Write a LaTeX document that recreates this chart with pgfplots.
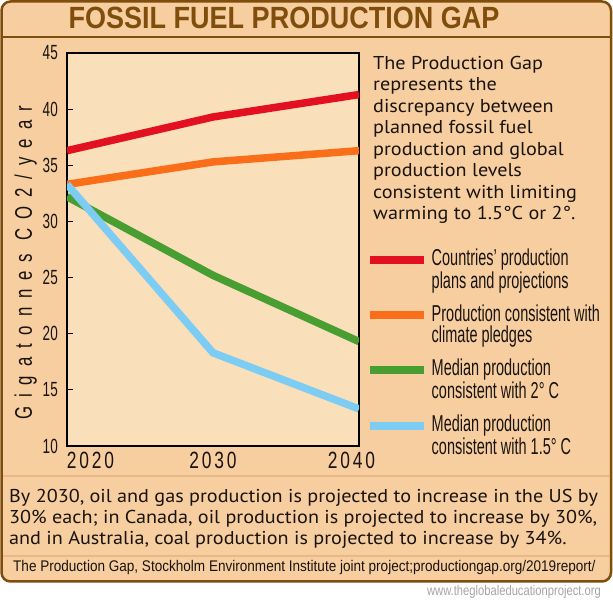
\documentclass[border=0pt]{standalone}
\usepackage{fontspec}
\usepackage{pgfplots}
\pgfplotsset{compat=1.18}
\setmainfont[FakeStretch=1.085]{PT Sans}
\newfontfamily\titlefont[FakeStretch=0.88]{Liberation Sans Bold}
\newfontfamily\condfont[FakeStretch=0.66]{Liberation Sans}
\newfontfamily\xtickfont[FakeStretch=0.74,LetterSpace=12]{Liberation Sans}
\newfontfamily\ylabfont[FakeStretch=0.7,LetterSpace=37]{Liberation Sans}
\newfontfamily\legfont[FakeStretch=0.63]{Liberation Sans}
\newfontfamily\srcfont[FakeStretch=0.88]{Liberation Sans}
\newfontfamily\wwwfont[FakeStretch=0.8]{Liberation Sans}
\definecolor{outerbg}{RGB}{247,206,160}
\definecolor{plotbg}{RGB}{249,223,186}
\definecolor{brownA}{RGB}{128,78,12}
\definecolor{sepcol}{RGB}{233,184,134}
\definecolor{redA}{RGB}{226,16,32}
\definecolor{orangeA}{RGB}{250,110,25}
\definecolor{greenA}{RGB}{72,158,48}
\definecolor{blueA}{RGB}{124,204,244}
\definecolor{txt}{RGB}{25,20,15}
\begin{document}
\begin{tikzpicture}[x=1pt,y=1pt]
\useasboundingbox (0,0) rectangle (613,601);
\fill[white] (0,0) rectangle (613,601);
\draw[brownA, line width=2.5pt, fill=outerbg, rounded corners=9pt] (1.5,19.5) rectangle (611,599.5);
\draw[brownA, line width=2.5pt] (1.5,564) -- (611,564);
\draw[sepcol, line width=1.2pt] (3,125) -- (609.5,125);
\draw[sepcol, line width=1.2pt] (3,45) -- (609.5,45);
\node[anchor=base, inner sep=0pt, font=\titlefont\fontsize{30.7}{32}\selectfont, text=brownA] at (284,572) {FOSSIL FUEL PRODUCTION GAP};
\begin{axis}[
  at={(67pt,155pt)}, anchor=south west,
  scale only axis, width=292pt, height=393pt,
  xmin=2020, xmax=2040, ymin=10, ymax=45,
  axis background/.style={fill=plotbg},
  axis line style={line width=1.4pt, black},
  xtick={2020,2030,2040},
  xticklabels={\makebox[0pt][l]{2020}, 2030, \makebox[0pt][r]{2040\hspace*{-16pt}}},
  x tick label style={font=\xtickfont\fontsize{23.5}{24}\selectfont, anchor=north, inner sep=0pt, yshift=-6pt, text=txt},
  x tick style={draw=none},
  ytick={10,15,20,25,30,35,40,45},
  y tick label style={font=\condfont\fontsize{20.5}{21}\selectfont, anchor=east, inner sep=0pt, xshift=-9pt, text=txt},
  ytick pos=left, tick align=inside, major tick length=6pt,
  y tick style={line width=1.2pt, black},
  /pgf/number format/assume math mode=true,
  ylabel={Gigatonnes CO2/year},
  ylabel style={font=\ylabfont\fontsize{24}{24}\selectfont, at={(axis description cs:-0.1199,0.466)}, anchor=base, inner sep=0pt, text=txt},
  legend style={at={(axis description cs:1.024,0.501)}, anchor=north west, draw=none, fill=none, inner sep=0pt, row sep=15.3pt, column sep=4pt, font=\legfont\fontsize{23}{20.5}\selectfont, cells={anchor=west, align=left}, nodes={inner sep=0pt, text=txt}},
  legend image code/.code={\draw[#1, line width=7.5pt] (0pt,9.5pt) -- (54pt,9.5pt);},
]
\addplot[redA, line width=7.5pt, line join=round] coordinates {(2020,36.3) (2030,39.3) (2040,41.3)};
\addlegendentry{Countries’ production\\plans and projections}
\addplot[orangeA, line width=7.5pt, line join=round] coordinates {(2020,33.3) (2030,35.3) (2040,36.3)};
\addlegendentry{Production consistent with\\climate pledges}
\addplot[greenA, line width=7.5pt, line join=round] coordinates {(2020,32.2) (2030,25.2) (2040,19.3)};
\addlegendentry{Median production\\consistent with 2° C}
\addplot[blueA, line width=7.5pt, line join=round] coordinates {(2020,33.3) (2030,18.3) (2040,13.3)};
\addlegendentry{Median production\\consistent with 1.5° C}
\end{axis}
\node[anchor=base west, inner sep=0pt, align=left, text=txt, font=\fontsize{18.6}{21.5}\selectfont] at (373,381.2) {The Production Gap\\represents the\\discrepancy between\\planned fossil fuel\\production and global\\production levels\\consistent with limiting\\warming to 1.5°C or 2°.};
\node[anchor=base west, inner sep=0pt, align=left, text=txt, font=\fontsize{18.6}{21}\selectfont] at (9,56) {By 2030, oil and gas production is projected to increase in the US by\\30\% each; in Canada, oil production is projected to increase by 30\%,\\and in Australia, coal production is projected to increase by 34\%.};
\node[anchor=base west, inner sep=0pt, text=txt, font=\srcfont\fontsize{15.4}{16}\selectfont] at (13,29) {The Production Gap, Stockholm Environment Institute joint project;productiongap.org/2019report/};
\node[anchor=base east, inner sep=0pt, text={rgb,255:red,165;green,165;blue,165}, font=\wwwfont\fontsize{14}{15}\selectfont] at (601,5) {www.theglobaleducationproject.org};
\end{tikzpicture}
\end{document}
